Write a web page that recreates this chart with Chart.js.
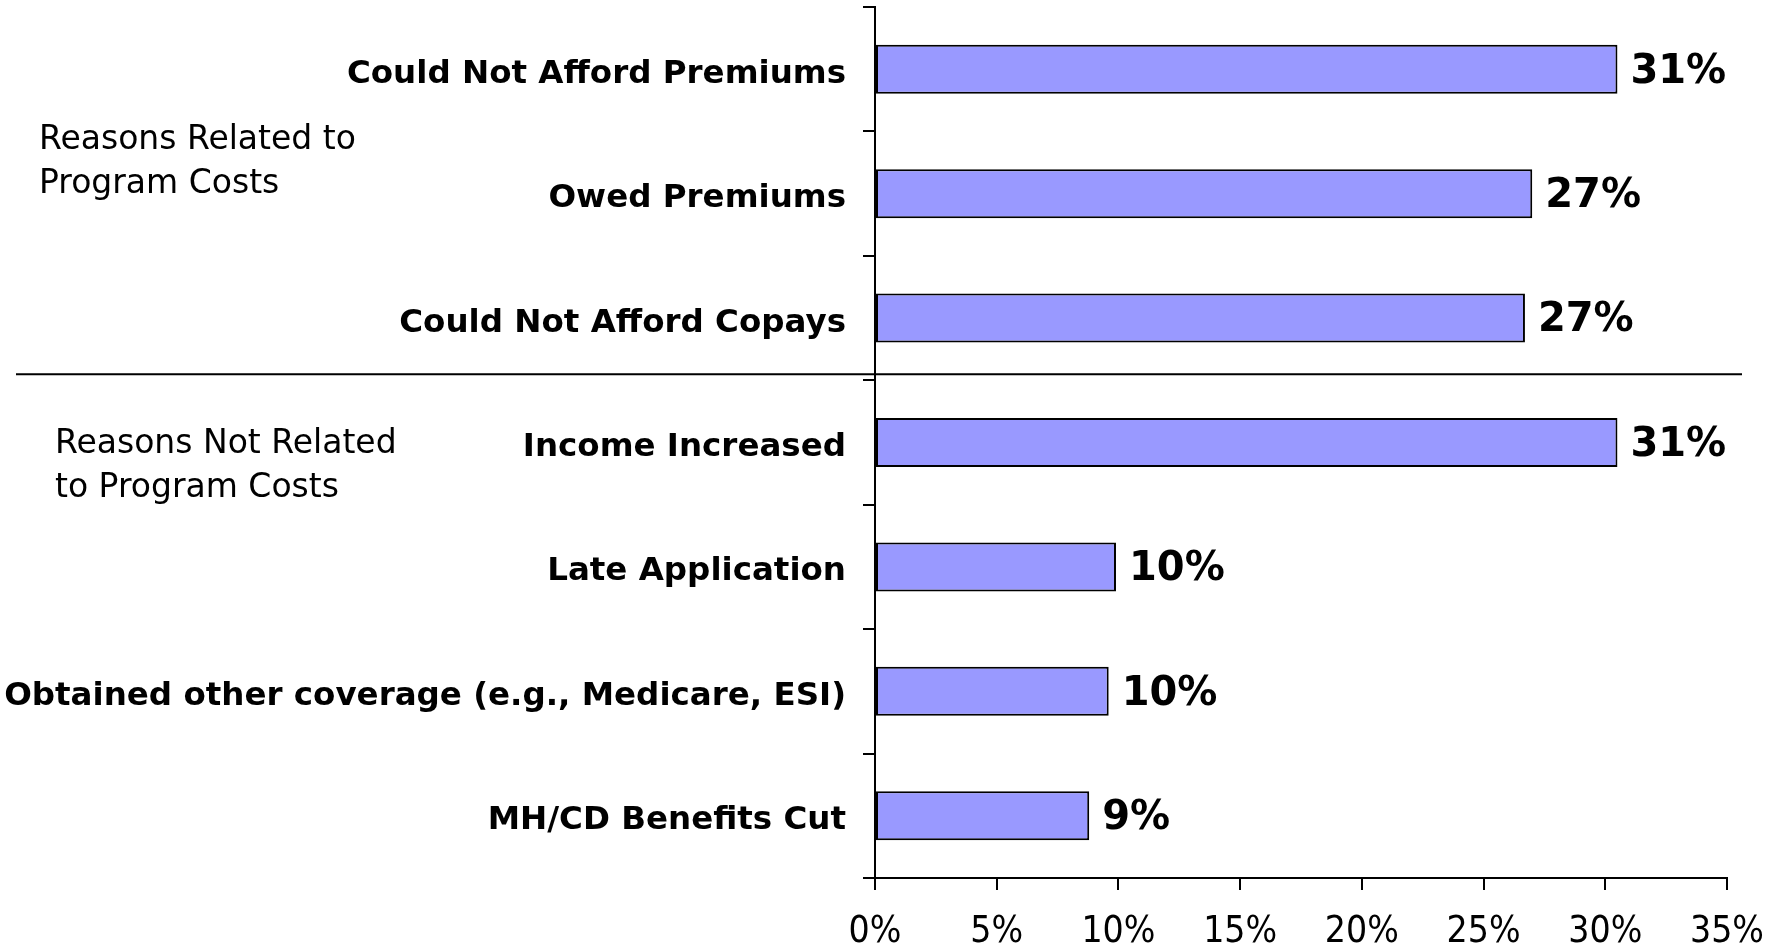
<!DOCTYPE html>
<html>
<head>
<meta charset="utf-8">
<title>Reasons for leaving the program</title>
<script src="https://cdn.jsdelivr.net/npm/chart.js@4.4.1/dist/chart.umd.min.js"></script>
<style>
  html, body { margin: 0; padding: 0; background: #fff; }
  #wrap { width: 1779px; height: 949px; position: relative; }
</style>
</head>
<body>
<div id="wrap"><canvas id="reasons-chart"></canvas></div>
<script>
// --- Data ---
const categories = [
  'Could Not Afford Premiums',
  'Owed Premiums',
  'Could Not Afford Copays',
  'Income Increased',
  'Late Application',
  'Obtained other coverage (e.g., Medicare, ESI)',
  'MH/CD Benefits Cut'
];
const values = [30.5, 27.0, 26.7, 30.5, 9.9, 9.6, 8.8];
const valueLabels = ['31%', '27%', '27%', '31%', '10%', '10%', '9%'];
const xTicks = [0, 5, 10, 15, 20, 25, 30, 35];
const groupLabels = [
  ['Reasons Related to', 'Program Costs'],
  ['Reasons Not Related', 'to Program Costs']
];

// value labels to the right of each bar
const valueLabelPlugin = {
  id: 'valueLabels',
  afterDatasetsDraw(chart) {
    const ctx = chart.ctx;
    const meta = chart.getDatasetMeta(0);
    ctx.save();
    ctx.font = 'bold 40px "DejaVu Sans"';
    ctx.fillStyle = '#000';
    ctx.textAlign = 'left';
    ctx.textBaseline = 'middle';
    meta.data.forEach((bar, i) => ctx.fillText(valueLabels[i], bar.x + 13, bar.y + 3));
    ctx.restore();
  }
};

// group captions and the line between the two groups
const groupPlugin = {
  id: 'groups',
  afterDraw(chart) {
    const ctx = chart.ctx;
    const y = chart.scales.y;
    const splitY = y.getPixelForValue(2.5) - 6;
    ctx.save();
    ctx.strokeStyle = '#000';
    ctx.lineWidth = 2;
    ctx.beginPath();
    ctx.moveTo(16, splitY);
    ctx.lineTo(1742, splitY);
    ctx.stroke();

    ctx.font = '33px "DejaVu Sans"';
    ctx.fillStyle = '#000';
    ctx.textAlign = 'left';
    ctx.textBaseline = 'middle';
    groupLabels[0].forEach((t, i) => ctx.fillText(t, 39, 140 + i * 44));
    groupLabels[1].forEach((t, i) => ctx.fillText(t, 55, 444 + i * 44));
    ctx.restore();
  }
};

document.addEventListener('DOMContentLoaded', () => {
  const ctx = document.getElementById('reasons-chart').getContext('2d');
  new Chart(ctx, {
    type: 'bar',
    data: {
      labels: categories,
      datasets: [{
        data: values,
        backgroundColor: '#9999FF',
        borderColor: '#000',
        borderWidth: 2,
        borderSkipped: false,
        categoryPercentage: 1,
        barPercentage: 0.394
      }]
    },
    options: {
      indexAxis: 'y',
      responsive: true,
      maintainAspectRatio: false,
      animation: false,
      layout: { autoPadding: false, padding: { top: 7, right: 52, left: 0, bottom: 0 } },
      plugins: {
        legend: { display: false },
        tooltip: { enabled: false }
      },
      scales: {
        x: {
          min: 0,
          max: 35,
          afterBuildTicks: s => { s.ticks = xTicks.map(v => ({ value: v })); },
          afterFit: s => {
            s.height = 71;
            s.paddingLeft = 0; s.paddingRight = 0;
          },
          border: { display: true, color: '#000', width: 2 },
          grid: { drawOnChartArea: false, color: '#000', tickColor: '#000', tickLength: 12, lineWidth: 2 },
          ticks: {
            color: '#000',
            padding: 20,
            maxRotation: 0,
            font: { family: '"DejaVu Sans Condensed", "DejaVu Sans"', size: 37 },
            callback: v => v + '%'
          }
        },
        y: {
          afterFit: s => {
            s.width = 875;
            s.paddingTop = 0; s.paddingBottom = 0;
          },
          border: { display: true, color: '#000', width: 2 },
          grid: { drawOnChartArea: false, color: '#000', tickColor: '#000', tickLength: 12, lineWidth: 2 },
          ticks: {
            color: '#000',
            padding: 17,
            labelOffset: 5,
            font: { family: '"DejaVu Sans"', size: 32.5, weight: 'bold' }
          }
        }
      }
    },
    plugins: [valueLabelPlugin, groupPlugin]
  });
});
</script>
</body>
</html>
